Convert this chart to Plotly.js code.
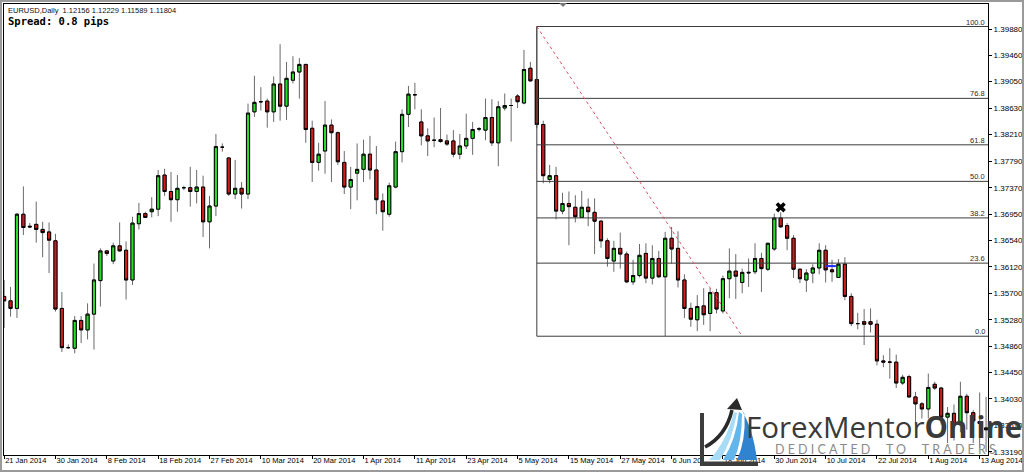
<!DOCTYPE html>
<html><head><meta charset="utf-8">
<script src="https://cdn.plot.ly/plotly-3.0.1.min.js"></script>
<style>html,body{margin:0;padding:0;background:#fff}#chart{width:1024px;height:472px}</style>
</head><body><div id="chart"></div>
<script>
// ---- data (EURUSD daily) ----
const open = [1.3565,1.3558,1.3546,1.3695,1.3676,1.3679,1.3671,1.3667,1.3653,1.3546,
1.3484,1.3483,1.3527,1.3512,1.3537,1.3590,1.3637,1.3621,1.3645,1.3638,
1.3591,1.3680,1.3696,1.3699,1.3703,1.3757,1.3731,1.3718,1.3737,1.3737,
1.3731,1.3738,1.3683,1.3708,1.3801,1.3784,1.3727,1.3736,1.3727,1.3857,
1.3873,1.3874,1.3857,1.3901,1.3866,1.3907,1.3920,1.3932,1.3831,1.3777,
1.3795,1.3836,1.3824,1.3777,1.3738,1.3760,1.3766,1.3790,1.3765,1.3716,
1.3695,1.3738,1.3794,1.3853,1.3884,1.3841,1.3819,1.3812,1.3813,1.3811,
1.3811,1.3790,1.3803,1.3815,1.3830,1.3828,1.3848,1.3808,1.3863,1.3867,
1.3882,1.3871,1.3926,1.3908,1.3837,1.3750,1.3756,1.3700,1.3712,1.3706,
1.3690,1.3706,1.3698,1.3684,1.3653,1.3621,1.3641,1.3632,1.3588,1.3598,
1.3633,1.3594,1.3625,1.3596,1.3657,1.3641,1.3591,1.3546,1.3528,1.3550,
1.3538,1.3571,1.3542,1.3593,1.3605,1.3587,1.3602,1.3604,1.3625,1.3608,
1.3640,1.3689,1.3677,1.3657,1.3608,1.3591,1.3602,1.3610,1.3638,1.3607,
1.3595,1.3616,1.3565,1.3522,1.3525,1.3525,1.3521,1.3463,1.3461,1.3461,
1.3428,1.3438,1.3406,1.3395,1.3387,1.3426,1.3420,1.3374,1.3380,1.3362,
1.3407,1.3381,1.3367,1.3357];
const high = [1.3591,1.3580,1.3697,1.3739,1.3681,1.3715,1.3683,1.3682,1.3664,1.3572,
1.3489,1.3534,1.3534,1.3554,1.3617,1.3641,1.3638,1.3650,1.3682,1.3652,
1.3691,1.3713,1.3699,1.3722,1.3765,1.3767,1.3762,1.3757,1.3740,1.3770,
1.3765,1.3756,1.3724,1.3822,1.3807,1.3785,1.3781,1.3746,1.3870,1.3914,
1.3896,1.3878,1.3913,1.3964,1.3936,1.3945,1.3942,1.3933,1.3843,1.3808,
1.3874,1.3845,1.3826,1.3795,1.3770,1.3807,1.3813,1.3819,1.3803,1.3728,
1.3745,1.3810,1.3861,1.3898,1.3903,1.3861,1.3831,1.3848,1.3863,1.3821,
1.3828,1.3822,1.3854,1.3841,1.3833,1.3878,1.3877,1.3874,1.3886,1.3878,
1.3885,1.3955,1.3936,1.3992,1.3843,1.3773,1.3770,1.3729,1.3731,1.3725,
1.3732,1.3720,1.3720,1.3686,1.3657,1.3653,1.3666,1.3636,1.3623,1.3648,
1.3649,1.3646,1.3637,1.3667,1.3675,1.3668,1.3600,1.3555,1.3567,1.3578,
1.3578,1.3577,1.3598,1.3641,1.3632,1.3609,1.3625,1.3649,1.3634,1.3650,
1.3696,1.3698,1.3681,1.3662,1.3609,1.3608,1.3616,1.3649,1.3646,1.3623,
1.3624,1.3627,1.3570,1.3539,1.3545,1.3546,1.3528,1.3472,1.3483,1.3473,
1.3441,1.3441,1.3414,1.3398,1.3443,1.3430,1.3422,1.3390,1.3394,1.3430,
1.3411,1.3385,1.3413,1.3406];
const low = [1.3515,1.3533,1.3531,1.3662,1.3673,1.3650,1.3627,1.3602,1.3541,1.3477,
1.3482,1.3475,1.3491,1.3497,1.3481,1.3549,1.3629,1.3616,1.3636,1.3560,
1.3583,1.3671,1.3689,1.3690,1.3692,1.3724,1.3683,1.3699,1.3733,1.3707,
1.3712,1.3659,1.3641,1.3692,1.3794,1.3724,1.3719,1.3704,1.3719,1.3849,
1.3859,1.3832,1.3841,1.3843,1.3844,1.3902,1.3878,1.3808,1.3746,1.3764,
1.3759,1.3746,1.3773,1.3727,1.3703,1.3717,1.3746,1.3750,1.3695,1.3669,
1.3691,1.3736,1.3777,1.3833,1.3861,1.3804,1.3787,1.3801,1.3808,1.3803,
1.3785,1.3782,1.3798,1.3789,1.3826,1.3812,1.3803,1.3771,1.3859,1.3810,
1.3863,1.3869,1.3905,1.3831,1.3744,1.3744,1.3687,1.3695,1.3646,1.3682,
1.3689,1.3676,1.3632,1.3642,1.3612,1.3604,1.3609,1.3586,1.3583,1.3595,
1.3586,1.3584,1.3594,1.3502,1.3617,1.3579,1.3531,1.3517,1.3510,1.3520,
1.3510,1.3538,1.3538,1.3562,1.3561,1.3570,1.3580,1.3600,1.3572,1.3605,
1.3637,1.3674,1.3638,1.3594,1.3586,1.3572,1.3586,1.3600,1.3587,1.3588,
1.3594,1.3559,1.3518,1.3513,1.3488,1.3508,1.3456,1.3453,1.3435,1.3420,
1.3425,1.3404,1.3364,1.3372,1.3372,1.3417,1.3362,1.3333,1.3337,1.3350,
1.3354,1.3333,1.3325,1.3319];
const close = [1.3558,1.3546,1.3695,1.3674,1.3675,1.3671,1.3666,1.3654,1.3545,1.3484,
1.3484,1.3527,1.3512,1.3537,1.3591,1.3637,1.3633,1.3645,1.3637,1.3591,
1.3681,1.3696,1.3690,1.3703,1.3756,1.3731,1.3718,1.3736,1.3737,1.3731,
1.3738,1.3683,1.3708,1.3802,1.3801,1.3727,1.3736,1.3727,1.3855,1.3872,
1.3873,1.3857,1.3901,1.3866,1.3910,1.3920,1.3932,1.3829,1.3777,1.3790,
1.3836,1.3824,1.3778,1.3738,1.3750,1.3766,1.3790,1.3765,1.3718,1.3699,
1.3740,1.3794,1.3853,1.3885,1.3884,1.3819,1.3811,1.3812,1.3810,1.3806,
1.3790,1.3803,1.3815,1.3829,1.3830,1.3848,1.3808,1.3865,1.3867,1.3867,
1.3873,1.3924,1.3906,1.3837,1.3756,1.3756,1.3700,1.3712,1.3707,1.3691,
1.3706,1.3699,1.3684,1.3653,1.3625,1.3641,1.3632,1.3588,1.3598,1.3630,
1.3594,1.3625,1.3596,1.3657,1.3640,1.3591,1.3546,1.3529,1.3549,1.3536,
1.3571,1.3545,1.3593,1.3605,1.3597,1.3603,1.3603,1.3625,1.3609,1.3649,
1.3689,1.3675,1.3657,1.3608,1.3593,1.3602,1.3610,1.3638,1.3607,1.3604,
1.3616,1.3565,1.3522,1.3522,1.3521,1.3521,1.3463,1.3461,1.3461,1.3428,
1.3437,1.3406,1.3395,1.3387,1.3421,1.3420,1.3374,1.3380,1.3362,1.3407,
1.3381,1.3368,1.3364,1.3354];

const tickIdx = [0,8,16,24,32,40,48,56,64,72,80,88,96,104,112,120,128,136,144,152];
const tickLabels = ["21 Jan 2014","30 Jan 2014","8 Feb 2014","18 Feb 2014","27 Feb 2014",
"10 Mar 2014","20 Mar 2014","1 Apr 2014","11 Apr 2014","23 Apr 2014","5 May 2014",
"15 May 2014","27 May 2014","6 Jun 2014","18 Jun 2014","30 Jun 2014","10 Jul 2014",
"22 Jul 2014","1 Aug 2014","13 Aug 2014"];
const priceTicks = [1.39880,1.39460,1.39050,1.38630,1.38210,1.37790,1.37370,1.36950,
1.36540,1.36120,1.35700,1.35280,1.34860,1.34450,1.34030,1.33610,1.33190];

const fibLevels = [100.0, 76.8, 61.8, 50.0, 38.2, 23.6, 0.0];
const fibHigh = 1.3992, fibLow = 1.3502;
const fibStartIdx = 83, fibEndIdx = 115;
const crossIdx = [121], crossPrice = [1.3706];
const blueMarkIdx = [128, 129.6], blueMarkPrice = 1.3613;

const headerText = "EURUSD,Daily\u00a0\u00a01.12156 1.12229 1.11589 1.11804";
const spreadText = "Spread: 0.8 pips";
const logoMain = "ForexMentor", logoBold = "Online";
const logoTag = "DEDICATED\u00a0\u00a0TO\u00a0\u00a0TRADERS";

// ---- build ----
const barIndex = open.map((_, i) => i);
const bodyHigh = open.map((o, i) => Math.max(o, close[i]));
const bodyLow = open.map((o, i) => Math.min(o, close[i]));
const xRange = [-0.02, 153.3];
const yRange = [1.33141, 1.40276];
const GREEN = '#2add2a', RED = '#cf1d1d';

const traces = [
  {type:'candlestick', x:barIndex, open:open, high:high, low:low, close:close,
   increasing:{line:{color:'#6a6a6a', width:1}, fillcolor:GREEN},
   decreasing:{line:{color:'#6a6a6a', width:1}, fillcolor:RED},
   whiskerwidth:0, hoverinfo:'skip', showlegend:false},
  {type:'candlestick', x:barIndex, open:open, high:bodyHigh, low:bodyLow, close:close,
   increasing:{line:{color:'#000', width:1}, fillcolor:GREEN},
   decreasing:{line:{color:'#000', width:1}, fillcolor:RED},
   whiskerwidth:0, hoverinfo:'skip', showlegend:false},
  {type:'scatter', mode:'markers', x:crossIdx, y:crossPrice,
   marker:{symbol:'x', size:9, color:'#000', line:{width:0}}, hoverinfo:'skip', showlegend:false}
];

const PX = x => (x - 4) / 984;
const PY = y => (455 - y) / 451;
function pth(cmds) {
  return cmds.map(c => {
    const pts = [];
    for (let k = 1; k < c.length; k += 2) pts.push(PX(c[k]).toFixed(5) + ',' + PY(c[k+1]).toFixed(5));
    return c[0] + pts.join(' ');
  }).join(' ');
}

const fibPrice = lvl => fibLow + (fibHigh - fibLow) * lvl / 100;
const shapes = [];
fibLevels.forEach(l => {
  shapes.push({type:'line', xref:'x', yref:'y', x0:fibStartIdx, x1:xRange[1], y0:fibPrice(l), y1:fibPrice(l),
    line:{color:'#3c3c3c', width:1}});
});
shapes.push({type:'line', xref:'x', yref:'y', x0:fibStartIdx, x1:fibStartIdx, y0:fibLow, y1:fibHigh,
  line:{color:'#3c3c3c', width:1}});
shapes.push({type:'line', xref:'x', yref:'y', x0:fibStartIdx, x1:fibEndIdx, y0:fibHigh, y1:fibLow,
  line:{color:'#e0506a', width:1, dash:'dot'}});
shapes.push({type:'line', xref:'x', yref:'y', x0:blueMarkIdx[0], x1:blueMarkIdx[1], y0:blueMarkPrice, y1:blueMarkPrice,
  line:{color:'#2030ff', width:2}});
// top chart-shift marker
shapes.push({type:'path', xref:'paper', yref:'paper', path:pth([['M',559,3],['L',567,3],['L',563,7],['Z']]),
  fillcolor:'#777', line:{width:0}});
// logo icon
shapes.push({type:'rect', xref:'paper', yref:'paper', x0:PX(700), x1:PX(716), y0:PY(471), y1:PY(456),
  fillcolor:'#fff', line:{width:0}});
shapes.push({type:'path', xref:'paper', yref:'paper',
  path:pth([['M',700,413],['L',704,413],['L',704,461.5],['L',758,461.5],['L',758,466],['L',700,466],['Z']]),
  fillcolor:'#3d3d3d', line:{width:0}});
shapes.push({type:'path', xref:'paper', yref:'paper',
  path:pth([['M',709,460],['Q',726,443,734,412],['L',737,413],['Q',732,441,720,460],['Z']]),
  fillcolor:'#a8dcf6', line:{width:0}});
shapes.push({type:'path', xref:'paper', yref:'paper',
  path:pth([['M',723,460],['Q',736,440,739,412],['L',742,414],['Q',742,442,734,460],['Z']]),
  fillcolor:'#62b6ec', line:{width:0}});
shapes.push({type:'path', xref:'paper', yref:'paper',
  path:pth([['M',737,460],['Q',746,440,744.5,414],['L',741,409],['Q',753,428,757,460],['Z']]),
  fillcolor:'#2f83cf', line:{width:0}});
shapes.push({type:'path', xref:'paper', yref:'paper',
  path:pth([['M',705,447],['Q',726,436,732,410]]),
  line:{color:'#2a2a2a', width:3.5}});
shapes.push({type:'path', xref:'paper', yref:'paper',
  path:pth([['M',737,398],['L',727,409],['L',742,410],['Z']]),
  fillcolor:'#2a2a2a', line:{width:0}});
// outer window frame
shapes.push({type:'rect', xref:'paper', yref:'paper', x0:PX(1), x1:PX(1023), y0:PY(471), y1:PY(1),
  line:{color:'#9a9a9a', width:2}});

const annotations = [];
fibLevels.forEach(l => {
  annotations.push({xref:'paper', yref:'y', x:1, y:fibPrice(l), xanchor:'right', yanchor:'bottom',
    xshift:-1, yshift:-2, text:l.toFixed(1), showarrow:false,
    font:{family:'Liberation Sans', size:7.5, color:'#2b2b2b'}});
});
annotations.push({xref:'paper', yref:'paper', x:PX(6), y:PY(10), xanchor:'left', yanchor:'middle',
  text:headerText, showarrow:false, font:{family:'Liberation Sans', size:7.5, color:'#111'}});
annotations.push({xref:'paper', yref:'paper', x:PX(6), y:PY(20.5), xanchor:'left', yanchor:'middle',
  text:'<b>' + spreadText + '</b>', showarrow:false, font:{family:'DejaVu Sans Mono', size:10.5, color:'#000'}});
annotations.push({xref:'paper', yref:'paper', x:PX(745), y:PY(426), xanchor:'left', yanchor:'middle',
  text:logoMain + '<b>' + logoBold + '</b>', showarrow:false, borderpad:0,
  font:{family:'Open Sans', size:29.5, color:'#3a3a3a'}});
annotations.push({xref:'paper', yref:'paper', x:PX(774), y:PY(449.5), xanchor:'left', yanchor:'middle',
  text:logoTag, showarrow:false, borderpad:0, font:{family:'Lato', size:12.5, color:'#8a8a8a'}});

const layout = {
  width:1024, height:472, margin:{l:4, r:36, t:4, b:17},
  paper_bgcolor:'#fff', plot_bgcolor:'#fff', showlegend:false, hovermode:false,
  boxmode:'overlay',
  xaxis:{range:xRange, showgrid:false, zeroline:false, showline:true, mirror:true,
    linecolor:'#000', linewidth:1, ticks:'outside', ticklen:3, tickcolor:'#000',
    tickmode:'array', tickvals:tickIdx, ticktext:tickLabels, ticklabelposition:'outside right',
    tickangle:0, ticklabelstandoff:-2, ticklabeloverflow:'allow',
    tickfont:{family:'Liberation Sans', size:7.5, color:'#000'}, rangeslider:{visible:false}, fixedrange:true},
  yaxis:{side:'right', range:yRange, showgrid:false, zeroline:false, showline:true, mirror:true,
    linecolor:'#000', linewidth:1, ticks:'outside', ticklen:3, tickcolor:'#000',
    tickmode:'array', tickvals:priceTicks, ticktext:priceTicks.map(v => v.toFixed(5)),
    tickfont:{family:'Liberation Sans', size:8, color:'#000'}, fixedrange:true},
  shapes:shapes, annotations:annotations
};

Plotly.newPlot('chart', traces, layout, {staticPlot:true, displayModeBar:false}).then(gd => {
  // spread the tagline letters over the logo's width (774 -> 995 px), keeping its left edge
  gd.querySelectorAll('.annotation-text').forEach(t => {
    if (t.textContent === logoTag) {
      const b0 = t.getBBox();
      const n = logoTag.length;
      const ls = Math.max(0, (221 - b0.width) / (n - 1));
      t.setAttribute('letter-spacing', ls.toFixed(2) + 'px');
      const b1 = t.getBBox();
      const dx = b0.x - b1.x;
      const tr = t.getAttribute('transform') || '';
      t.setAttribute('transform', 'translate(' + dx.toFixed(2) + ',0) ' + tr);
    }
  });
});
</script></body></html>
